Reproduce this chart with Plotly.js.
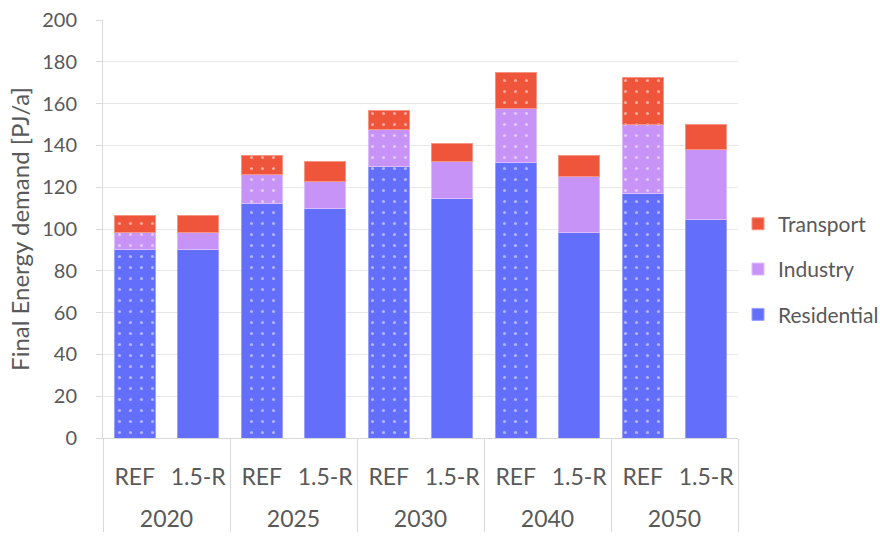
<!DOCTYPE html>
<html>
<head>
<meta charset="utf-8">
<script src="https://cdn.plot.ly/plotly-3.0.1.min.js"></script>
<style>html,body{margin:0;padding:0;background:#fff;}#chart{width:880px;height:543px;}</style>
</head>
<body>
<div id="chart"></div>
<script>
const years = ['2020', '2025', '2030', '2040', '2050'];
const scenarios = ['REF', '1.5-R'];
const seriesNames = ['Residential', 'Industry', 'Transport'];

// REF scenario values [PJ/a]
const residentialREF = [90.4, 112.4, 130.0, 131.6, 116.9];
const industryREF    = [8.1, 13.5, 17.5, 26.0, 32.9];
const transportREF   = [8.0, 9.2, 9.1, 17.2, 22.6];

// 1.5-R scenario values [PJ/a]
const residential15R = [90.4, 109.7, 114.8, 98.5, 104.7];
const industry15R    = [8.1, 13.1, 17.6, 26.4, 33.3];
const transport15R   = [8.0, 9.3, 8.6, 10.5, 11.8];

const colors = ['#636efa', '#c893f7', '#ef553b'];
const edgeColors = ['#9aa1fc', '#dcbdfb', '#f59583'];
const legendRanks = [3, 2, 1];

const refData = [residentialREF, industryREF, transportREF];
const r15Data = [residential15R, industry15R, transport15R];

// year labels drawn one line lower (leading line break) to leave room like the original
const yearLabels = years.map(y => '<br>' + y);
const xREF = [yearLabels, years.map(() => scenarios[0])];
const x15R = [yearLabels, years.map(() => scenarios[1])];

const traces = [];
seriesNames.forEach((name, i) => {
  traces.push({
    type: 'bar', name: name, x: xREF, y: refData[i],
    legendgroup: name, showlegend: false,
    marker: {
      color: colors[i],
      line: {color: edgeColors[i], width: 1},
      pattern: {shape: '.', fgcolor: '#ffffff', bgcolor: colors[i], fillmode: 'overlay', size: 11, solidity: 0.06}
    },
    hoverinfo: 'y+name'
  });
});
seriesNames.forEach((name, i) => {
  traces.push({
    type: 'bar', name: name, x: x15R, y: r15Data[i],
    legendgroup: name, showlegend: true, legendrank: legendRanks[i],
    marker: {color: colors[i], line: {color: edgeColors[i], width: 1}},
    hoverinfo: 'y+name'
  });
});

const layout = {
  width: 880, height: 543,
  margin: {l: 103, r: 142, t: 20, b: 105, autoexpand: false},
  paper_bgcolor: '#ffffff', plot_bgcolor: '#ffffff',
  font: {family: 'Lato, "Open Sans", sans-serif', color: '#595959'},
  barmode: 'stack',
  bargap: 0.355,
  showlegend: true,
  legend: {
    x: 1.0, xanchor: 'left', y: 0.404, yanchor: 'middle',
    traceorder: 'grouped', tracegroupgap: 15,
    font: {size: 21, color: '#595959'},
    bgcolor: 'rgba(0,0,0,0)'
  },
  xaxis: {
    type: 'multicategory',
    showline: true, linecolor: '#d9d9d9', linewidth: 1,
    showgrid: false, ticks: '', tickangle: 0,
    ticklabelstandoff: 18,
    showdividers: true, dividercolor: '#d9d9d9', dividerwidth: 1,
    tickfont: {size: 23, color: '#595959'}
  },
  yaxis: {
    range: [0, 200], dtick: 20, tick0: 0,
    showline: true, linecolor: '#d9d9d9', linewidth: 1,
    showgrid: true, gridcolor: '#e8e8e8', gridwidth: 1,
    ticks: 'outside', ticklen: 6, tickcolor: '#d9d9d9',
    ticklabelstandoff: 15,
    tickfont: {size: 20, color: '#595959'},
    zeroline: false,
    title: {text: 'Final Energy demand [PJ/a]', font: {size: 24, color: '#595959'}, standoff: 5}
  }
};

Plotly.newPlot('chart', traces, layout, {displayModeBar: false, staticPlot: true});
</script>
</body>
</html>
